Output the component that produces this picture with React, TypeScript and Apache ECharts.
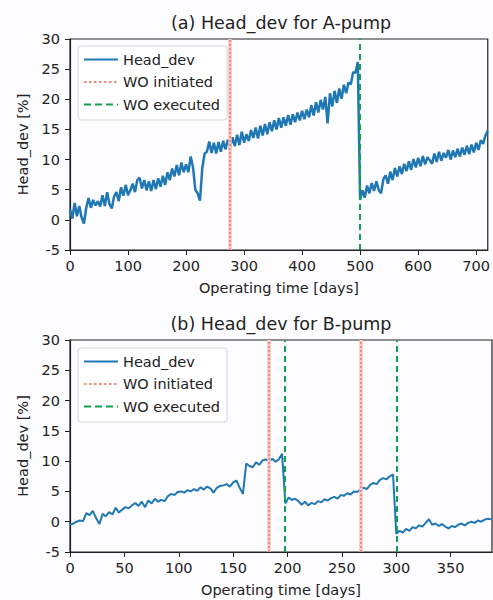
import React, { useEffect, useRef } from "react";
import * as echarts from "echarts";

// A-pump: Head_dev sampled every 4 days (day 0 .. 720)
const stepA = 4;
const headA = [
  1.8, 0.2, 2.8, 0.6, 2.3, 0.4, -0.6, 2.0, 3.6, 2.0,
  3.3, 2.4, 3.1, 2.2, 4.1, 2.3, 4.6, 2.6, 1.9, 3.9,
  4.6, 3.1, 5.4, 4.0, 5.8, 4.1, 4.9, 6.0, 4.6, 6.6,
  7.0, 5.2, 6.6, 4.9, 6.4, 4.8, 6.6, 5.1, 6.9, 5.5,
  7.3, 5.8, 7.9, 6.6, 8.5, 7.2, 9.1, 7.4, 9.5, 7.9,
  9.2, 7.9, 10.5, 8.7, 5.0, 4.4, 3.2, 8.6, 11.0, 11.3,
  13.0, 11.1, 12.8, 11.0, 12.9, 11.3, 13.1, 11.7, 13.3, 12.0,
  13.7, 12.2, 14.1, 12.4, 14.6, 12.8, 14.2, 13.1, 14.9, 13.6,
  15.3, 13.5, 15.6, 14.0, 15.9, 14.2, 16.2, 14.7, 16.5, 15.0,
  16.9, 15.3, 17.0, 15.6, 17.4, 15.8, 17.5, 16.2, 17.8, 16.5,
  18.1, 16.7, 18.3, 17.0, 19.0, 17.3, 19.5, 17.8, 19.9, 18.3,
  20.4, 16.0, 21.0, 18.8, 21.4, 19.4, 21.8, 20.1, 22.4, 21.0,
  22.8, 22.5, 24.5, 24.4, 26.2, 3.3, 4.9, 3.7, 5.7, 4.4,
  6.1, 4.8, 6.4, 5.0, 4.4, 6.7, 7.4, 6.0, 8.0, 6.6,
  8.6, 7.2, 8.9, 7.6, 9.3, 8.1, 9.7, 8.3, 10.1, 8.7,
  10.3, 8.9, 10.6, 9.2, 10.4, 9.9, 9.3, 11.0, 9.6, 11.3,
  9.8, 11.1, 10.3, 11.6, 10.0, 11.5, 10.4, 11.8, 10.5, 12.0,
  10.8, 12.3, 10.9, 12.5, 11.2, 12.8, 11.6, 13.2, 12.6, 14.0,
  14.8,
];

// B-pump: Head_dev sampled every 3 days (day 0 .. 387)
const stepB = 3;
const headB = [
  -0.5, -0.3, 0.0, 0.2, 0.1, 1.4, 1.1, 1.8, 0.6, -0.4,
  1.3, 0.9, 1.6, 1.2, 2.3, 1.5, 2.0, 2.4, 2.2, 2.7,
  3.1, 2.6, 3.3, 2.4, 3.5, 3.0, 3.8, 3.3, 3.6, 3.4,
  4.2, 4.6, 4.4, 4.9, 5.0, 4.8, 5.2, 5.0, 5.4, 5.1,
  5.7, 5.3, 5.8, 5.5, 4.8, 5.6, 5.9, 6.0, 6.2, 5.8,
  6.5, 6.8, 5.6, 4.6, 9.6, 9.2, 9.0, 9.8, 9.4, 10.1,
  10.3, 10.0, 10.4, 9.9, 10.3, 11.2, 3.0, 4.0, 3.6, 3.8,
  3.4, 2.8, 3.3, 2.7, 3.1, 2.9, 3.4, 3.2, 3.7, 3.5,
  3.9, 4.1, 3.8, 4.4, 4.3, 4.7, 4.5, 5.0, 4.9, 5.3,
  5.6, 5.4, 6.1, 6.4, 6.2, 6.9, 7.2, 7.0, 7.5, 7.8,
  -2.0, -1.5, -1.8, -1.2, -1.5, -0.9, -1.1, -0.6, -0.8, -0.2,
  0.4, -0.5, -0.3, -0.7, -0.4, -0.8, -1.1, -0.7, -0.9, -0.5,
  -0.3, -0.6, -0.2, 0.0, -0.2, 0.2, 0.0, 0.3, 0.5, 0.4,
];

const woInitA = [275];
const woExecA = [500];
const woInitB = [183, 267.5];
const woExecB = [197.5, 300];

const titles = ["(a) Head_dev for A-pump", "(b) Head_dev for B-pump"];
const legendNames = ["Head_dev", "WO initiated", "WO executed"];

const FONT = "DejaVu Sans";
const TXT = "#222";
const BLUE = "#1f77b4";
const SALMON = "#f28a80";
const GREEN = "#12a050";

function App() {
  const ref = useRef<HTMLDivElement>(null);
  useEffect(() => {
    if (!ref.current) return;
    const chart = echarts.init(ref.current, null, { renderer: "svg" });

    const seriesA = headA.map((v, i) => [i * stepA, v]);
    const seriesB = headB.map((v, i) => [i * stepB, v]);

    const grids = [
      { left: 70, right: 1, top: 39, height: 211 },
      { left: 70, right: 1, top: 340, height: 212 },
    ];

    const xAxisBase = (gi: number, max: number, interval: number) => ({
      type: "value",
      gridIndex: gi,
      min: 0,
      max,
      interval,
      name: "Operating time [days]",
      nameLocation: "middle",
      nameGap: 30,
      nameTextStyle: { fontFamily: FONT, fontSize: 14.5, color: TXT },
      axisLine: { show: true, onZero: false, lineStyle: { color: TXT, width: 1.2 } },
      axisTick: { show: true, length: 5, lineStyle: { color: TXT } },
      axisLabel: {
        fontFamily: FONT,
        fontSize: 14.5,
        color: TXT,
        margin: 8,
        showMaxLabel: false,
      },
      splitLine: { show: false },
    });

    const yAxisBase = (gi: number) => ({
      type: "value",
      gridIndex: gi,
      min: -5,
      max: 30,
      interval: 5,
      name: "Head_dev [%]",
      nameLocation: "middle",
      nameGap: 40,
      nameTextStyle: { fontFamily: FONT, fontSize: 14.5, color: TXT },
      axisLine: { show: true, lineStyle: { color: TXT, width: 1.2 } },
      axisTick: { show: true, length: 5, lineStyle: { color: TXT } },
      axisLabel: { fontFamily: FONT, fontSize: 14.5, color: TXT, margin: 10 },
      splitLine: { show: false },
    });

    const vlines = (xs: number[]) => xs.map((x) => ({ xAxis: x }));

    const woSeries = (gi: number, init: number[], exec: number[]) => [
      {
        name: "WO initiated",
        type: "line",
        xAxisIndex: gi,
        yAxisIndex: gi,
        data: [],
        symbol: "none",
        lineStyle: { color: SALMON, width: 2.5, type: [2.5, 2.5] },
        itemStyle: { color: SALMON },
        markLine: {
          silent: true,
          symbol: ["none", "none"],
          label: { show: false },
          lineStyle: { color: "#f9c6c0", width: 3.5, type: "solid" },
          data: vlines(init),
        },
        z: 3,
      },
      {
        name: "WO initiated",
        type: "line",
        xAxisIndex: gi,
        yAxisIndex: gi,
        data: [],
        symbol: "none",
        lineStyle: { color: SALMON, width: 2.5, type: [2.5, 2.5] },
        markLine: {
          silent: true,
          symbol: ["none", "none"],
          label: { show: false },
          lineStyle: { color: SALMON, width: 2, type: [2, 2] },
          data: vlines(init),
        },
        z: 4,
      },
      {
        name: "WO executed",
        type: "line",
        xAxisIndex: gi,
        yAxisIndex: gi,
        data: [],
        symbol: "none",
        lineStyle: { color: GREEN, width: 2.5, type: [7, 4] },
        itemStyle: { color: GREEN },
        markLine: {
          silent: true,
          symbol: ["none", "none"],
          label: { show: false },
          lineStyle: { color: GREEN, width: 2, type: [6, 4] },
          data: vlines(exec),
        },
        z: 5,
      },
    ];

    const legendBase = (top: number) => ({
      orient: "vertical",
      left: 78,
      top,
      data: legendNames,
      itemWidth: 34,
      itemHeight: 14,
      itemGap: 7.5,
      padding: [6, 7, 8, 5],
      backgroundColor: "rgba(255,255,255,0.85)",
      borderColor: "#d4d4d8",
      borderWidth: 1,
      borderRadius: 3,
      selectedMode: false,
      itemStyle: { opacity: 0 },
      textStyle: { fontFamily: FONT, fontSize: 14.5, color: TXT },
    });

    const option: any = {
      animation: false,
      backgroundColor: "#fdfcfe",
      grid: grids.map((g) => ({
        ...g,
        show: true,
        borderColor: TXT,
        borderWidth: 1.2,
        backgroundColor: "transparent",
      })),
      xAxis: [xAxisBase(0, 720, 100), xAxisBase(1, 388, 50)],
      yAxis: [yAxisBase(0), yAxisBase(1)],
      legend: [legendBase(46), legendBase(348)],
      graphic: [
        {
          type: "text",
          x: 281,
          y: 23,
          style: {
            text: titles[0],
            fontFamily: FONT,
            fontSize: 17.5,
            fill: TXT,
            textAlign: "center",
            textVerticalAlign: "middle",
          },
        },
        {
          type: "text",
          x: 281,
          y: 324,
          style: {
            text: titles[1],
            fontFamily: FONT,
            fontSize: 17.5,
            fill: TXT,
            textAlign: "center",
            textVerticalAlign: "middle",
          },
        },
      ],
      series: [
        {
          name: "Head_dev",
          type: "line",
          xAxisIndex: 0,
          yAxisIndex: 0,
          data: seriesA,
          symbol: "none",
          lineStyle: { color: BLUE, width: 2.5 },
          itemStyle: { color: BLUE },
          z: 2,
        },
        ...woSeries(0, woInitA, woExecA),
        {
          name: "Head_dev",
          type: "line",
          xAxisIndex: 1,
          yAxisIndex: 1,
          data: seriesB,
          symbol: "none",
          lineStyle: { color: BLUE, width: 2 },
          itemStyle: { color: BLUE },
          z: 2,
        },
        ...woSeries(1, woInitB, woExecB),
      ],
    };

    chart.setOption(option);
    return () => chart.dispose();
  }, []);

  return (
    <div
      ref={ref}
      style={{ position: "fixed", left: 0, top: 0, width: 493, height: 600 }}
    />
  );
}

export default App;
